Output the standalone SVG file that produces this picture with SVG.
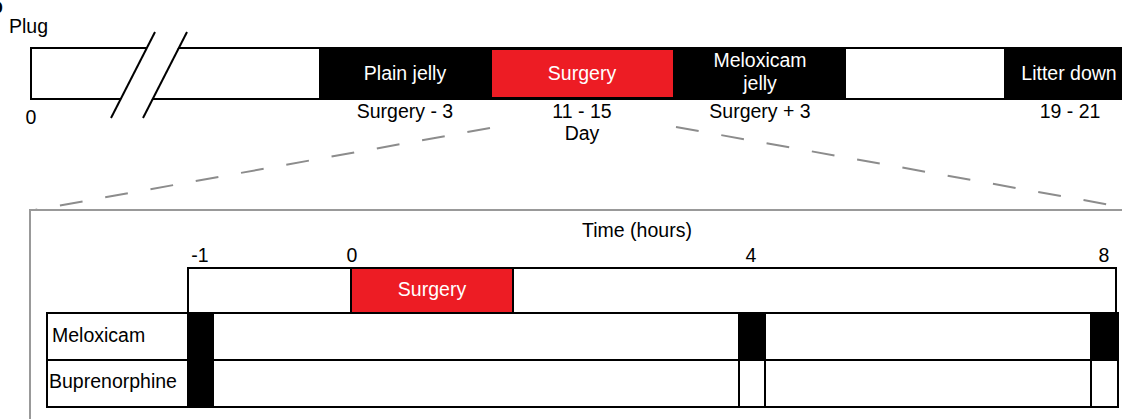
<svg xmlns="http://www.w3.org/2000/svg" width="1122" height="419" viewBox="0 0 1122 419">
<style>
text{font-family:"Liberation Sans",Arial,sans-serif;font-size:19.5px;fill:#000}
.c{text-anchor:middle}
.w{fill:#fff}
.k{stroke:#000;stroke-width:2}
.dash{stroke:#8c8c8c;stroke-width:2;stroke-dasharray:23 23;fill:none}
</style>
<rect width="1122" height="419" fill="#fff"/>
<text x="-9" y="13" style="font-weight:bold">b</text>
<text x="9" y="33">Plug</text>
<g id="topbar">
  <rect x="320" y="47" width="802" height="53" fill="#000"/>
  <rect x="31" y="48" width="289" height="51" fill="#fff" class="k"/>
  <polygon points="149,44 180,44 150,103 119,103" fill="#fff"/>
  <line x1="155" y1="32" x2="111" y2="118" class="k"/>
  <line x1="187" y1="32" x2="143" y2="118" class="k"/>
  <text x="31" y="124" class="c">0</text>
</g>
<g id="plain-jelly">
  <text x="405" y="80" class="c w">Plain jelly</text>
  <text x="405" y="118" class="c">Surgery - 3</text>
</g>
<g id="surgery-top">
  <rect x="492" y="50" width="181" height="47" fill="#ed1c24"/>
  <text x="582" y="80" class="c w">Surgery</text>
  <text x="582" y="118" class="c">11 - 15</text>
  <text x="582" y="140" class="c">Day</text>
</g>
<g id="meloxicam-jelly">
  <text x="760" y="67" class="c w">Meloxicam</text>
  <text x="760" y="90" class="c w">jelly</text>
  <text x="760" y="118" class="c">Surgery + 3</text>
</g>
<g id="gap">
  <rect x="846" y="49" width="158" height="49" fill="#fff"/>
</g>
<g id="litter-down">
  <text x="1069" y="80" class="c w">Litter down</text>
  <text x="1070" y="118" class="c">19 - 21</text>
</g>
<g id="connectors">
  <line x1="490" y1="128" x2="35" y2="210" class="dash"/>
  <line x1="676" y1="127" x2="1122" y2="207" class="dash"/>
</g>
<g id="zoom-box">
  <rect x="30" y="210" width="1100" height="220" fill="none" stroke="#999" stroke-width="2"/>
</g>
<g id="time-axis">
  <text x="637" y="237" class="c">Time (hours)</text>
  <text x="200" y="262" class="c">-1</text>
  <text x="352" y="262" class="c">0</text>
  <text x="751" y="262" class="c">4</text>
  <text x="1104" y="262" class="c">8</text>
  <rect x="188" y="268" width="928" height="45" fill="#fff" class="k"/>
</g>
<g id="surgery-bottom">
  <rect x="351" y="268" width="162" height="45" fill="#ed1c24" class="k"/>
  <text x="432" y="296" class="c w">Surgery</text>
</g>
<g id="meloxicam-row">
  <rect x="47" y="313" width="141" height="47" fill="#fff" class="k"/>
  <text x="52" y="342">Meloxicam</text>
  <rect x="188" y="313" width="930" height="47" fill="#fff" class="k"/>
  <rect x="188" y="313" width="26" height="47" fill="#000"/>
  <rect x="738" y="313" width="28" height="47" fill="#000"/>
  <rect x="1090" y="313" width="28" height="47" fill="#000"/>
</g>
<g id="buprenorphine-row">
  <rect x="47" y="360" width="141" height="47" fill="#fff" class="k"/>
  <text x="49" y="388">Buprenorphine</text>
  <rect x="188" y="360" width="930" height="47" fill="#fff" class="k"/>
  <rect x="188" y="360" width="26" height="47" fill="#000"/>
  <line x1="739" y1="360" x2="739" y2="407" class="k"/>
  <line x1="765" y1="360" x2="765" y2="407" class="k"/>
  <line x1="1091" y1="360" x2="1091" y2="407" class="k"/>
</g>
</svg>
